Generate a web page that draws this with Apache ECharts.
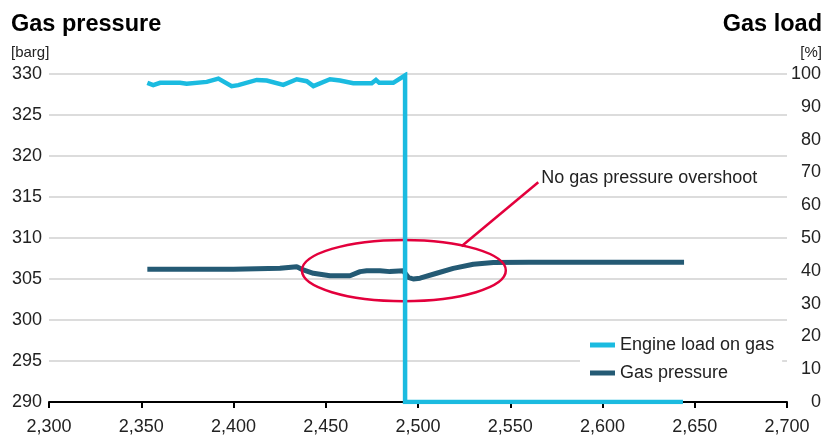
<!DOCTYPE html>
<html>
<head>
<meta charset="utf-8">
<script src="https://cdn.jsdelivr.net/npm/echarts@6/dist/echarts.min.js"></script>
<style>
html,body{margin:0;padding:0;background:#fff;}
#c{width:833px;height:438px;}
</style>
</head>
<body>
<div id="c"></div>
<script>
// ---- data ----
var engineLoadX = [2353.3, 2356.5, 2360.2, 2371.0, 2374.6, 2385.5, 2391.8, 2399.0, 2402.6, 2412.6, 2418.0, 2427.0, 2434.3, 2439.7, 2443.3, 2452.3, 2457.7, 2464.9, 2474.9, 2477.2, 2479.0, 2486.6, 2493.0, 2493.0, 2643.6];
var engineLoadY = [97.3, 96.6, 97.3, 97.3, 97.0, 97.6, 98.6, 96.3, 96.6, 98.2, 98.0, 96.7, 98.4, 97.8, 96.3, 98.4, 98.0, 97.2, 97.2, 98.2, 97.3, 97.3, 99.6, 0, 0];
var gasPressureX = [2353.3, 2400.0, 2425.2, 2434.3, 2437.8, 2443.3, 2452.3, 2463.1, 2468.6, 2472.2, 2479.4, 2484.8, 2492.0, 2494.7, 2497.4, 2501.1, 2510.1, 2519.1, 2530.0, 2540.8, 2560.0, 2644.2];
var gasPressureY = [306.2, 306.2, 306.3, 306.5, 306.1, 305.7, 305.4, 305.4, 305.9, 306.0, 306.0, 305.9, 306.0, 305.2, 305.0, 305.1, 305.7, 306.3, 306.8, 307.0, 307.05, 307.05];
var xTicks = {min: 2300, max: 2700, interval: 50};
var leftTicks = {min: 290, max: 330, interval: 5};
var rightTicks = {min: 0, max: 100, interval: 10};
var seriesNames = ['Engine load on gas', 'Gas pressure'];
// annotation (data coordinates on left axis)
var ellipseBox = {x0: 2437.1, x1: 2547.6, y0: 302.3, y1: 309.76};
var calloutLine = [[2523.6, 309.0], [2565.2, 316.8]];
var calloutText = {x: 2566.8, y: 317.3, text: 'No gas pressure overshoot'};

function zip(a, b) { return a.map(function (v, i) { return [v, b[i]]; }); }

var FONT = '"Liberation Sans", Arial, Helvetica, sans-serif';
var chart = echarts.init(document.getElementById('c'));
var option = {
  animation: false,
  textStyle: {fontFamily: FONT},
  title: [
    {text: 'Gas pressure', left: 11, top: 13, padding: 0,
     textStyle: {fontSize: 23.5, fontWeight: 'bold', color: '#000', fontFamily: FONT}},
    {text: 'Gas load', right: 11, top: 13, padding: 0,
     textStyle: {fontSize: 23.5, fontWeight: 'bold', color: '#000', fontFamily: FONT}},
    {text: '[barg]', left: 11, top: 45, padding: 0,
     textStyle: {fontSize: 15, fontWeight: 'normal', color: '#222', fontFamily: FONT}},
    {text: '[%]', right: 11, top: 45, padding: 0,
     textStyle: {fontSize: 15, fontWeight: 'normal', color: '#222', fontFamily: FONT}}
  ],
  grid: {left: 49, right: 46, top: 74, bottom: 36, containLabel: false},
  legend: {
    orient: 'vertical', left: 580, top: 328,
    backgroundColor: '#fff', padding: [8, 8, 8, 10],
    itemWidth: 25, itemHeight: 5, itemGap: 10, icon: 'rect',
    data: seriesNames,
    textStyle: {fontSize: 18, color: '#222', fontFamily: FONT}
  },
  xAxis: {
    type: 'value', min: xTicks.min, max: xTicks.max, interval: xTicks.interval,
    axisLine: {show: true, lineStyle: {color: '#000', width: 2}},
    axisTick: {show: true, length: 6, lineStyle: {color: '#000', width: 2}},
    splitLine: {show: false},
    axisLabel: {fontSize: 18, color: '#222', margin: 16, fontFamily: FONT,
      formatter: function (v) { return v.toLocaleString('en-US'); }}
  },
  yAxis: [
    {type: 'value', min: leftTicks.min, max: leftTicks.max, interval: leftTicks.interval,
     axisLine: {show: false}, axisTick: {show: false},
     splitLine: {show: true, lineStyle: {color: '#dcdcdc', width: 2}},
     axisLabel: {fontSize: 18, color: '#222', margin: 7, fontFamily: FONT}},
    {type: 'value', min: rightTicks.min, max: rightTicks.max, interval: rightTicks.interval,
     position: 'right',
     axisLine: {show: false}, axisTick: {show: false}, splitLine: {show: false},
     axisLabel: {fontSize: 18, color: '#222', margin: 34, align: 'right', fontFamily: FONT}}
  ],
  series: [
    {name: seriesNames[0], type: 'line', yAxisIndex: 1, data: zip(engineLoadX, engineLoadY),
     showSymbol: false, z: 5, color: '#1bbbe0',
     lineStyle: {color: '#1bbbe0', width: 4.5, join: 'miter'}},
    {name: seriesNames[1], type: 'line', yAxisIndex: 0, data: zip(gasPressureX, gasPressureY),
     showSymbol: false, z: 1, color: '#245a74',
     lineStyle: {color: '#245a74', width: 5}}
  ]
};
chart.setOption(option);

function px(p) { return chart.convertToPixel({xAxisIndex: 0, yAxisIndex: 0}, p); }
var e0 = px([ellipseBox.x0, ellipseBox.y0]);
var e1 = px([ellipseBox.x1, ellipseBox.y1]);
var l0 = px(calloutLine[0]);
var l1 = px(calloutLine[1]);
var t0 = px([calloutText.x, calloutText.y]);
chart.setOption({
  graphic: [
    {type: 'ellipse', z: 3, silent: true,
     shape: {cx: (e0[0] + e1[0]) / 2, cy: (e0[1] + e1[1]) / 2,
             rx: Math.abs(e1[0] - e0[0]) / 2, ry: Math.abs(e1[1] - e0[1]) / 2},
     style: {fill: null, stroke: '#e3003c', lineWidth: 2.5}},
    {type: 'line', z: 3, silent: true,
     shape: {x1: l0[0], y1: l0[1], x2: l1[0], y2: l1[1]},
     style: {stroke: '#e3003c', lineWidth: 2.5}},
    {type: 'text', z: 3, silent: true, x: t0[0], y: t0[1],
     style: {text: calloutText.text, fill: '#222', font: '18px ' + FONT,
             textAlign: 'left', textVerticalAlign: 'middle'}}
  ]
});
</script>
</body>
</html>
